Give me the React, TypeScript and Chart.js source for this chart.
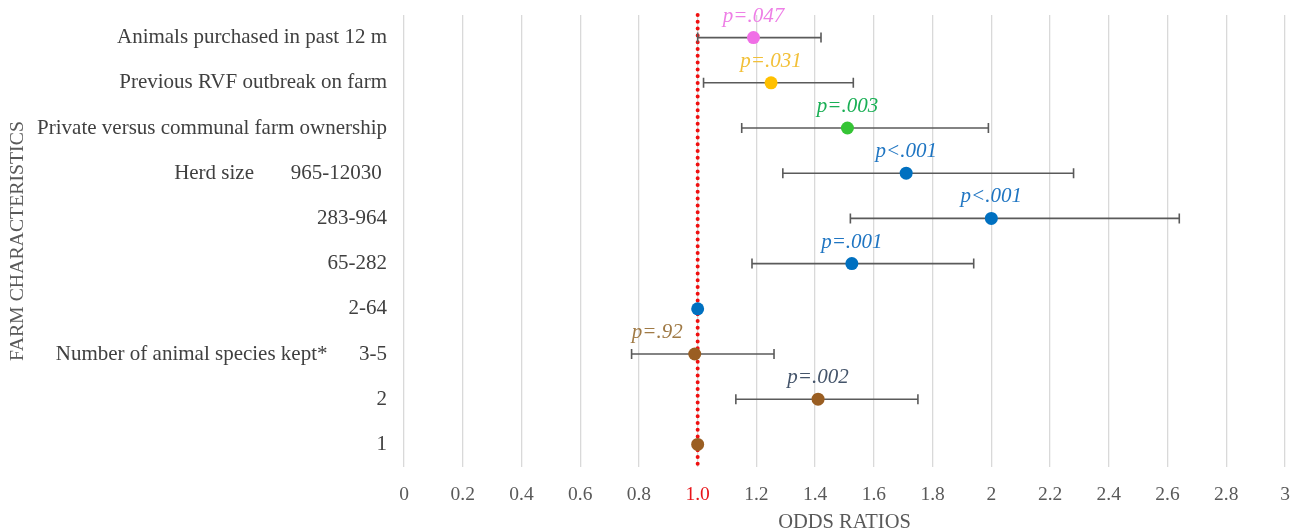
import React, { useEffect, useRef } from "react";
import { Chart, registerables } from "chart.js";

Chart.register(...registerables);

const categories = [
  "Animals purchased in past 12 m",
  "Previous RVF outbreak on farm",
  "Private versus communal farm ownership",
  "Herd size       965-12030 ",
  "283-964",
  "65-282",
  "2-64",
  "Number of animal species kept*      3-5",
  "2",
  "1",
];
const oddsRatios = [1.19, 1.25, 1.51, 1.71, 2.0, 1.525, 1.0, 0.99, 1.41, 1.0];
const ciLower = [1.0, 1.02, 1.15, 1.29, 1.52, 1.185, null, 0.775, 1.13, null];
const ciUpper = [1.42, 1.53, 1.99, 2.28, 2.64, 1.94, null, 1.26, 1.75, null];
const pLabels = ["p=.047", "p=.031", "p=.003", "p<.001", "p<.001", "p=.001", "", "p=.92", "p=.002", ""];
const pLabelAlign = ["center", "center", "center", "center", "center", "center", "center", "right", "center", "center"];
const pointColors = ["#F06EE6", "#FFC000", "#35C435", "#0070C0", "#0070C0", "#0070C0", "#0070C0", "#9A5E22", "#9A5E22", "#9A5E22"];
const labelColors = ["#EE7FE6", "#F2C038", "#1AAF55", "#1F75C2", "#1F75C2", "#1F75C2", "#1F75C2", "#A07A45", "#44546A", "#44546A"];
const referenceValue = 1.0;
const xMin = 0;
const xMax = 3;
const xStep = 0.2;

const SERIF = "'Liberation Serif', 'Times New Roman', serif";

const refLinePlugin = {
  id: "refLine",
  beforeDatasetsDraw(chart: any) {
    const { ctx, chartArea, scales } = chart;
    const x = scales.x.getPixelForValue(referenceValue);
    ctx.save();
    ctx.strokeStyle = "#F01010";
    ctx.lineWidth = 4;
    ctx.lineCap = "round";
    ctx.setLineDash([0, 6.8]);
    ctx.beginPath();
    ctx.moveTo(x, chartArea.top);
    ctx.lineTo(x, chartArea.bottom + 3);
    ctx.stroke();
    ctx.restore();
  },
};

const pLabelPlugin = {
  id: "pLabels",
  afterDatasetsDraw(chart: any) {
    const { ctx, scales } = chart;
    ctx.save();
    ctx.font = `italic 21px ${SERIF}`;
    ctx.textBaseline = "alphabetic";
    pLabels.forEach((t, i) => {
      if (!t) return;
      const x = scales.x.getPixelForValue(oddsRatios[i]);
      const y = scales.y.getPixelForValue(i);
      ctx.fillStyle = labelColors[i];
      ctx.textAlign = pLabelAlign[i];
      ctx.fillText(t, pLabelAlign[i] === "right" ? x - 12 : x, y - 16);
    });
    ctx.restore();
  },
};

export default function App() {
  const ref = useRef<HTMLCanvasElement>(null);
  useEffect(() => {
    const ciDatasets = categories
      .map((c, i) =>
        ciLower[i] == null
          ? null
          : {
              type: "scatter",
              data: [
                { x: ciLower[i], y: c },
                { x: ciUpper[i], y: c },
              ],
              showLine: true,
              borderColor: "#5A5A5A",
              borderWidth: 1.6,
              pointStyle: "line",
              rotation: 90,
              pointRadius: 5,
              pointBorderColor: "#5A5A5A",
              pointBorderWidth: 1.6,
              order: 1,
            }
      )
      .filter(Boolean);
    const chart = new Chart(ref.current!, {
      type: "scatter",
      data: {
        labels: categories,
        datasets: [
          {
            data: categories.map((c, i) => ({ x: oddsRatios[i], y: c })),
            pointBackgroundColor: pointColors,
            pointBorderColor: pointColors,
            pointRadius: 6.5,
            pointBorderWidth: 0,
            order: 0,
          },
          ...(ciDatasets as any[]),
        ],
      },
      options: {
        responsive: false,
        animation: false,
        layout: { padding: { top: 15, right: 13, left: 0, bottom: 0 } },
        plugins: { legend: { display: false }, tooltip: { enabled: false } },
        scales: {
          x: {
            type: "linear",
            min: xMin,
            max: xMax,
            afterFit: (s: any) => {
              s.height = 65;
              s.paddingLeft = 0;
              s.paddingRight = 0;
            },
            ticks: {
              stepSize: xStep,
              autoSkip: false,
              maxRotation: 0,
              padding: 16,
              font: { family: SERIF, size: 19.5 },
              color: (ctx: any) => (Math.abs(ctx.tick.value - referenceValue) < 1e-9 ? "#E8141A" : "#595959"),
              callback: (v: any) => {
                const n = Math.round(Number(v) * 10) / 10;
                return Math.abs(n - referenceValue) < 1e-9 ? "1.0" : String(n);
              },
            },
            grid: { color: "#D9D9D9", lineWidth: 1.3, drawTicks: false },
            border: { display: false },
            title: {
              display: true,
              text: "ODDS RATIOS",
              font: { family: SERIF, size: 20.5 },
              color: "#595959",
              padding: { top: 0, bottom: -3 },
            },
          },
          y: {
            type: "category",
            labels: categories,
            offset: true,
            afterFit: (s: any) => {
              s.width = 404;
              s.paddingTop = 0;
              s.paddingBottom = 0;
            },
            ticks: {
              autoSkip: false,
              padding: 17,
              font: { family: SERIF, size: 21 },
              color: "#404040",
            },
            grid: { display: false, drawTicks: false },
            border: { display: false },
            title: {
              display: true,
              text: "FARM CHARACTERISTICS",
              font: { family: SERIF, size: 19.8 },
              color: "#595959",
              padding: { top: 6, bottom: 0 },
            },
          },
        },
      } as any,
      plugins: [refLinePlugin, pLabelPlugin],
    } as any);
    return () => chart.destroy();
  }, []);
  return (
    <div style={{ position: "absolute", left: 0, top: 0, width: 1298, height: 532, background: "#fff" }}>
      <canvas ref={ref} width={1298} height={532} />
    </div>
  );
}
